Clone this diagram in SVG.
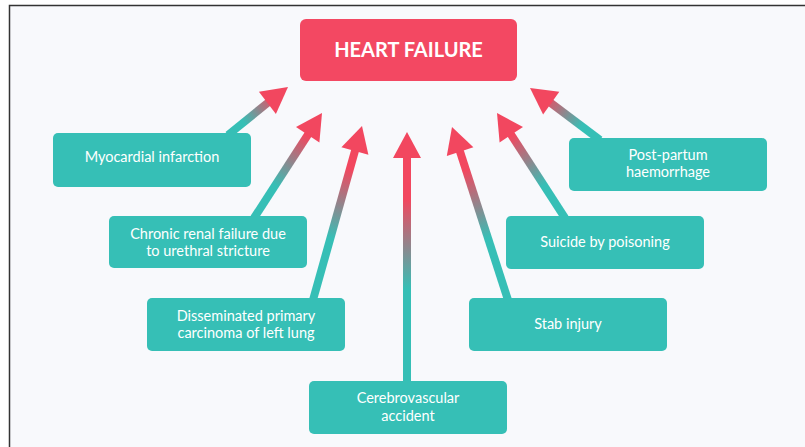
<svg xmlns="http://www.w3.org/2000/svg" width="805" height="447" viewBox="0 0 805 447">
<style>
.box{fill:#36BFB6}
.lbl{font-family:Lato,"Open Sans",sans-serif;font-size:14.5px;fill:#fff;text-anchor:middle}
.title{font-family:Lato,"Open Sans",sans-serif;font-size:20px;font-weight:bold;fill:#fff;text-anchor:middle}
.shaft{stroke-width:8;fill:none}
.head{fill:#F2475F}
</style>
<defs>
<linearGradient id="g1" gradientUnits="userSpaceOnUse" x1="228" y1="133" x2="288" y2="87"><stop offset="0" stop-color="#36BFB6"/><stop offset="0.25" stop-color="#36BFB6"/><stop offset="0.8" stop-color="#F2475F"/><stop offset="1" stop-color="#F2475F"/></linearGradient>
<linearGradient id="g2" gradientUnits="userSpaceOnUse" x1="254" y1="216" x2="322" y2="113"><stop offset="0" stop-color="#36BFB6"/><stop offset="0.3" stop-color="#36BFB6"/><stop offset="0.78" stop-color="#F2475F"/><stop offset="1" stop-color="#F2475F"/></linearGradient>
<linearGradient id="g3" gradientUnits="userSpaceOnUse" x1="313" y1="298" x2="362" y2="126"><stop offset="0" stop-color="#36BFB6"/><stop offset="0.35" stop-color="#36BFB6"/><stop offset="0.75" stop-color="#F2475F"/><stop offset="1" stop-color="#F2475F"/></linearGradient>
<linearGradient id="g4" gradientUnits="userSpaceOnUse" x1="407" y1="381" x2="407" y2="132"><stop offset="0" stop-color="#36BFB6"/><stop offset="0.37" stop-color="#36BFB6"/><stop offset="0.73" stop-color="#F2475F"/><stop offset="1" stop-color="#F2475F"/></linearGradient>
<linearGradient id="g5" gradientUnits="userSpaceOnUse" x1="508" y1="298" x2="452" y2="127"><stop offset="0" stop-color="#36BFB6"/><stop offset="0.35" stop-color="#36BFB6"/><stop offset="0.75" stop-color="#F2475F"/><stop offset="1" stop-color="#F2475F"/></linearGradient>
<linearGradient id="g6" gradientUnits="userSpaceOnUse" x1="565" y1="216" x2="497" y2="113"><stop offset="0" stop-color="#36BFB6"/><stop offset="0.3" stop-color="#36BFB6"/><stop offset="0.78" stop-color="#F2475F"/><stop offset="1" stop-color="#F2475F"/></linearGradient>
<linearGradient id="g7" gradientUnits="userSpaceOnUse" x1="600" y1="138" x2="530" y2="88"><stop offset="0" stop-color="#36BFB6"/><stop offset="0.25" stop-color="#36BFB6"/><stop offset="0.8" stop-color="#F2475F"/><stop offset="1" stop-color="#F2475F"/></linearGradient>
</defs>
<rect x="0" y="0" width="805" height="447" fill="#FFFFFF"/>
<rect x="9" y="5" width="796" height="442" fill="#F8F9FC"/>
<path d="M9.5 447 V5.5 H805" fill="none" stroke="#333" stroke-width="1.5"/>
<g id="connectors">
<line class="shaft" x1="228" y1="135" x2="270" y2="101" stroke="url(#g1)"/>
<polygon class="head" points="288,87 275.9,113.9 258.9,91.7"/>
<line class="shaft" x1="254" y1="218" x2="309" y2="133" stroke="url(#g2)"/>
<polygon class="head" points="322,113 319.4,142.4 296,127"/>
<line class="shaft" x1="313" y1="300" x2="355.5" y2="149" stroke="url(#g3)"/>
<polygon class="head" points="362,126 368.4,154.8 341.4,147.2"/>
<line class="shaft" x1="407" y1="383" x2="407" y2="156" stroke="url(#g4)"/>
<polygon class="head" points="407,132 421,158 393,158"/>
<line class="shaft" x1="508" y1="300" x2="459.5" y2="150" stroke="url(#g5)"/>
<polygon class="head" points="452,127 473.4,147.3 446.8,156.1"/>
<line class="shaft" x1="565" y1="218" x2="510" y2="133" stroke="url(#g6)"/>
<polygon class="head" points="497,113 523,127 499.6,142.4"/>
<line class="shaft" x1="600" y1="140" x2="549.5" y2="102" stroke="url(#g7)"/>
<polygon class="head" points="530,88 559.3,91.7 543.1,114.5"/>
</g>
<g id="heart-failure">
<rect x="300" y="19" width="217" height="62" rx="6" fill="#F34862"/>
<text class="title" x="408.5" y="57">HEART FAILURE</text>
</g>
<g id="myocardial">
<rect class="box" x="53" y="133" width="198" height="54" rx="5"/>
<text class="lbl" x="152" y="162">Myocardial infarction</text>
</g>
<g id="chronic-renal">
<rect class="box" x="109" y="216" width="198" height="52" rx="5"/>
<text class="lbl" x="208" y="239">Chronic renal failure due</text>
<text class="lbl" x="208" y="256">to urethral stricture</text>
</g>
<g id="disseminated">
<rect class="box" x="147" y="298" width="198" height="53" rx="5"/>
<text class="lbl" x="246" y="321">Disseminated primary</text>
<text class="lbl" x="246" y="338">carcinoma of left lung</text>
</g>
<g id="cerebrovascular">
<rect class="box" x="309" y="381" width="198" height="53" rx="5"/>
<text class="lbl" x="408" y="403">Cerebrovascular</text>
<text class="lbl" x="408" y="421">accident</text>
</g>
<g id="stab">
<rect class="box" x="469" y="298" width="198" height="53" rx="5"/>
<text class="lbl" x="568" y="329">Stab injury</text>
</g>
<g id="suicide">
<rect class="box" x="506" y="216" width="198" height="53" rx="5"/>
<text class="lbl" x="605" y="247">Suicide by poisoning</text>
</g>
<g id="post-partum">
<rect class="box" x="569" y="138" width="198" height="53" rx="5"/>
<text class="lbl" x="668" y="160">Post-partum</text>
<text class="lbl" x="668" y="177">haemorrhage</text>
</g>
</svg>
